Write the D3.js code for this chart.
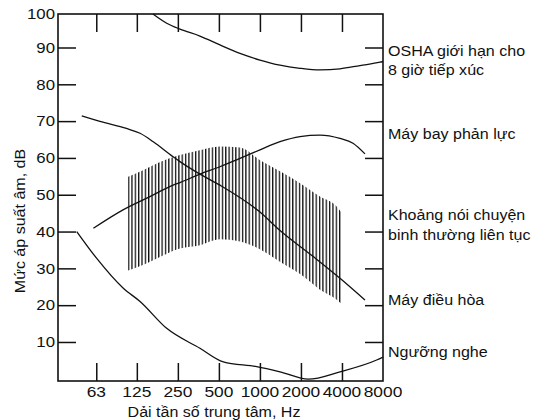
<!DOCTYPE html>
<html>
<head>
<meta charset="utf-8">
<script src="https://cdn.jsdelivr.net/npm/d3@7"></script>
<style>
  html, body { margin: 0; padding: 0; background: #fff; }
  svg { display: block; }
  text { font-family: "Liberation Sans", Arial, Helvetica, sans-serif; fill: #111; }
</style>
</head>
<body>
<svg id="chart" width="538" height="420"></svg>
<script>
// ---------------- DATA ----------------
const freqTicks  = [63, 125, 250, 500, 1000, 2000, 4000, 8000];
const freqLabels = ["63", "125", "250", "500", "1000", "2000", "4000", "8000"];
const dbTicks    = [10, 20, 30, 40, 50, 60, 70, 80, 90, 100];
const dbLabels   = ["10", "20", "30", "40", "50", "60", "70", "80", "90", "100"];

// OSHA 8-hour exposure limit
const oshaFreq = [164, 207, 259, 363, 509, 714, 1001, 1404, 1968, 2760, 3868, 5425, 7604, 8000];
const oshaDb   = [100, 96.6, 95.0, 93.1, 90.7, 88.4, 86.6, 85.2, 84.35, 83.9, 84.2, 85.1, 86.0, 86.2];

// Jet aircraft
const jetFreq = [60, 99, 156, 231, 259, 363, 509, 714, 1001, 1404, 1968, 2760, 3868, 4820, 5900];
const jetDb   = [40.9, 45.9, 49.5, 52.6, 53.3, 55.6, 57.6, 59.9, 62.2, 64.4, 65.8, 66.2, 65.3, 64.0, 61.1];

// Air conditioner
const acFreq = [49.3, 67, 105, 132, 165, 231, 259, 363, 509, 1001, 1404, 2464, 3868, 5900];
const acDb   = [71.4, 69.9, 68.0, 66.7, 64.4, 60.3, 59.0, 55.6, 52.6, 45.3, 40.3, 33.2, 27.3, 21.4];

// Hearing threshold
const thrFreq = [45.3, 63.5, 99.5, 132, 207, 363, 539, 947, 1404, 2264, 3868, 7190, 8000];
const thrDb   = [40, 32.7, 24.6, 21.0, 13.7, 8.3, 4.6, 3.3, 1.9, -0.1, 1.9, 5.1, 5.9];

// Normal continuous speech range (hatched band)
const speechFreq = [108, 140, 175, 259, 363, 509, 714, 1001, 1404, 2000, 2760, 3660, 4000];
const speechHigh = [54.9, 56.7, 58.5, 60.8, 62.1, 63.1, 62.8, 59.4, 56.4, 53.0, 49.5, 46.8, 45.0];
const speechLow  = [29.4, 31.0, 32.7, 35.4, 36.3, 37.9, 37.3, 35.2, 31.8, 28.3, 24.2, 21.5, 20.3];

// Right-hand labels
const rightLabels = [
  ["OSHA giới hạn cho", "8 giờ tiếp xúc"],
  ["Máy bay phản lực"],
  ["Khoảng nói chuyện", "binh thường liên tục"],
  ["Máy điều hòa"],
  ["Ngưỡng nghe"]
];
const xTitle = "Dải tần số trung tâm, Hz";
const yTitle = "Mức áp suất âm, dB";

// ---------------- LAYOUT ----------------
const L = 58, R = 383, T = 14, B = 381;
const freqMin = 33, freqMax = 8000;
const dbMin = -0.6, dbMax = 99.1;
const labelBaselines = [[55.7, 74.5], [138.5], [220, 239.5], [305], [357]];
const textStretch = 1.07;
const digitStretch = 1.12;

const svg = d3.select("#chart");

const x = d3.scaleLog().base(2).domain([freqMin, freqMax]).range([L, R]);
const y = d3.scaleLinear().domain([dbMin, dbMax]).range([B, T]).clamp(true);

const zip = (fs, vs) => fs.map((f, i) => [f, vs[i]]);

// hatch pattern
const defs = svg.append("defs");
const pat = defs.append("pattern")
  .attr("id", "hatch")
  .attr("patternUnits", "userSpaceOnUse")
  .attr("x", x(speechFreq[0]) - 0.2)
  .attr("y", 0)
  .attr("width", 3.35)
  .attr("height", 20);
pat.append("rect")
  .attr("x", 0).attr("y", 0)
  .attr("width", 1.3).attr("height", 20)
  .attr("fill", "#111");

// speech band
const area = d3.area()
  .x(d => x(d[0]))
  .y0(d => y(d[1]))
  .y1(d => y(d[2]))
  .curve(d3.curveMonotoneX);
svg.append("path")
  .datum(speechFreq.map((f, i) => [f, speechLow[i], speechHigh[i]]))
  .attr("d", area)
  .attr("fill", "url(#hatch)");

// curves
const line = d3.line()
  .x(d => x(d[0]))
  .y(d => y(d[1]))
  .curve(d3.curveMonotoneX);

[[oshaFreq, oshaDb], [jetFreq, jetDb], [acFreq, acDb], [thrFreq, thrDb]].forEach(([fs, vs]) => {
  svg.append("path")
    .datum(zip(fs, vs))
    .attr("d", line)
    .attr("fill", "none")
    .attr("stroke", "#111")
    .attr("stroke-width", 1.3);
});

// frame
svg.append("rect")
  .attr("x", L).attr("y", T)
  .attr("width", R - L).attr("height", B - T)
  .attr("fill", "none")
  .attr("stroke", "#111")
  .attr("stroke-width", 1.6);

// axes (ticks inward)
const tickLen = 18;
const gBottom = svg.append("g").attr("transform", `translate(0,${B})`)
  .call(d3.axisTop(x).tickValues(freqTicks.slice(0, -1)).tickSize(tickLen).tickFormat(""));
const gTop = svg.append("g").attr("transform", `translate(0,${T})`)
  .call(d3.axisBottom(x).tickValues(freqTicks.slice(0, -1)).tickSize(tickLen).tickFormat(""));
const gLeft = svg.append("g").attr("transform", `translate(${L},0)`)
  .call(d3.axisRight(y).tickValues(dbTicks.slice(0, -1)).tickSize(tickLen).tickFormat(""));
const gRight = svg.append("g").attr("transform", `translate(${R},0)`)
  .call(d3.axisLeft(y).tickValues(dbTicks.slice(0, -1)).tickSize(tickLen).tickFormat(""));
[gBottom, gTop, gLeft, gRight].forEach(g => {
  g.select(".domain").remove();
  g.selectAll(".tick line").attr("stroke", "#111").attr("stroke-width", 1.5);
});

// text helper
function addText(px, py, str, anchor, sx, size, rot) {
  return svg.append("text")
    .attr("transform", `translate(${px},${py})` + (rot ? ` rotate(${rot})` : "") + ` scale(${sx},1)`)
    .attr("text-anchor", anchor)
    .attr("font-size", size)
    .text(str);
}

// bottom tick labels
freqTicks.forEach((f, i) => addText(x(f), 397, freqLabels[i], "middle", digitStretch, 15.5));
// left tick labels
dbTicks.forEach((v, i) => addText(L - 3, y(v) + 5.3, dbLabels[i], "end", digitStretch, 15));

// titles
addText(214, 416.5, xTitle, "middle", textStretch, 15);
addText(24.5, 221, yTitle, "middle", textStretch, 15, -90);

// right labels
rightLabels.forEach((lines, i) => {
  lines.forEach((s, j) => addText(R + 5, labelBaselines[i][j], s, "start", textStretch, 15));
});
</script>
</body>
</html>
